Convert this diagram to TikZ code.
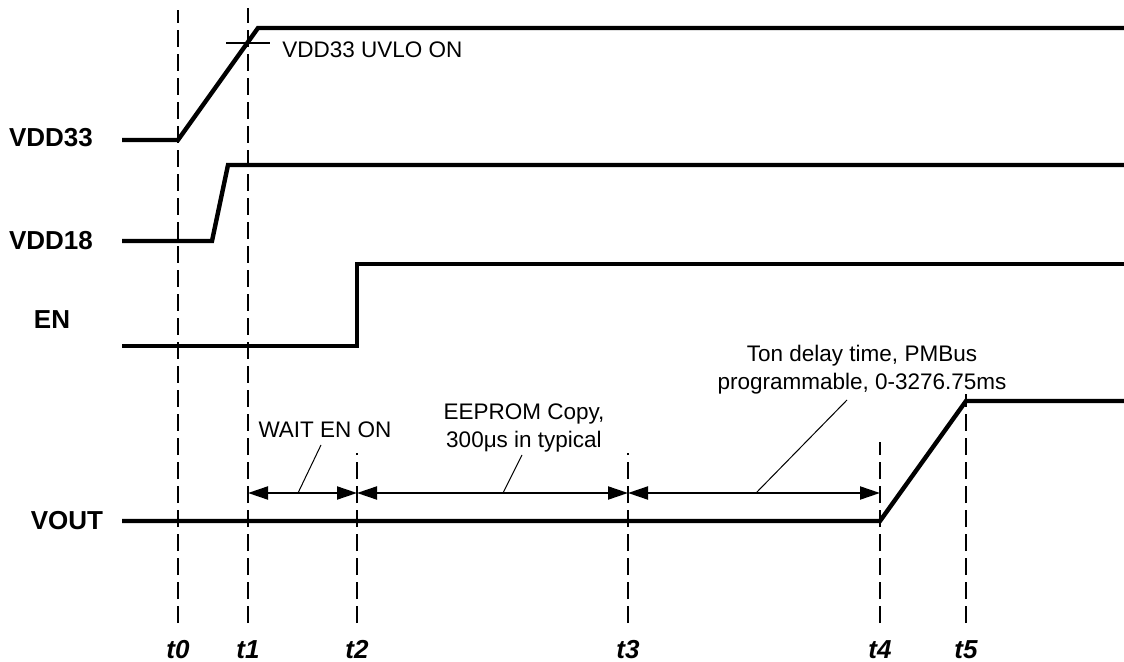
\documentclass[tikz,border=0pt]{standalone}
\usepackage{fontspec}
\setmainfont{Liberation Sans}
\usetikzlibrary{arrows.meta,positioning,calc}

\tikzset{
  sig/.style={line width=2.2pt, line join=miter},
  tline/.style={line width=1pt, dash pattern=on 8.5pt off 3.5pt},
  span/.style={line width=1pt, {Triangle[length=10pt,width=6.5pt]}-{Triangle[length=10pt,width=6.5pt]}},
  leader/.style={line width=0.5pt},
  sname/.style={inner sep=0pt, font=\fontsize{13}{15}\selectfont\bfseries},
  tname/.style={inner sep=0pt, font=\fontsize{13}{15}\selectfont\bfseries\itshape},
  note/.style={inner sep=0pt, align=center, font=\fontsize{11.25}{14}\selectfont},
}

\begin{document}
\begin{tikzpicture}[x=0.5pt,y=-0.5pt]
  \useasboundingbox (0,0) rectangle (1124,662);

  % time marks
  \foreach \n/\x/\ytop in {0/178/10,1/248/8,2/357/453,3/628/453,4/880/442,5/966/394} {
    \coordinate (b\n) at (\x,623);
    \coordinate (e\n) at (\x,\ytop);
    \coordinate (m\n) at (\x,493);
    \draw[tline] (b\n) -- (e\n);
    \node[tname] (t\n) at (\x,650) {t\n};
  }

  % signals
  \node[sname] (vdd33) at (51,138) {VDD33};
  \draw[sig] (122,140) -- (178,140) -- (258,28) -- (1124,28);
  \draw[line width=1pt] (226,43) -- (270,43);
  \node[note, anchor=west] (uvlo) at (282,50) {VDD33 UVLO ON};

  \node[sname] (vdd18) at (51,241) {VDD18};
  \draw[sig] (122,241) -- (212,241) -- (228,165) -- (1124,165);

  \node[sname] (en) at (52,320) {EN};
  \draw[sig] (122,346) -- (357,346) -- (357,264) -- (1124,264);

  \node[sname] (vout) at (67,521) {VOUT};
  \draw[sig] (122,521) -- (880,521) -- (966,401) -- (1124,401);

  % intervals
  \draw[span] (m1) -- (m2);
  \draw[span] (m2) -- (m3);
  \draw[span] (m3) -- (m4);

  \node[note] (wait) at (325,430) {WAIT EN ON};
  \coordinate (w0) at (298,493);
  \coordinate (w1) at (321,445);
  \draw[leader] (w0) -- (w1);

  \node[note] (eeprom) at (524,428) {EEPROM Copy,\\300μs in typical};
  \coordinate (c0) at (503,493);
  \coordinate (c1) at (522,455);
  \draw[leader] (c0) -- (c1);

  \node[note] (ton) at (862,370) {Ton delay time, PMBus\\programmable, 0-3276.75ms};
  \coordinate (d0) at (756,493);
  \coordinate (d1) at (847,400);
  \draw[leader] (d0) -- (d1);
\end{tikzpicture}
\end{document}
